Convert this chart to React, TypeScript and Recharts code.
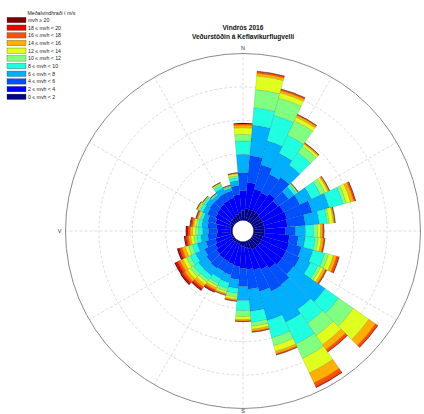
import React from 'react';
import {
  RadialBarChart,
  RadialBar,
  PolarGrid,
  PolarAngleAxis,
  PolarRadiusAxis,
} from 'recharts';

// Compass directions, 10° sectors centred on each value
const directions = [
  0, 10, 20, 30, 40, 50, 60, 70, 80, 90, 100, 110, 120, 130, 140, 150, 160, 170,
  180, 190, 200, 210, 220, 230, 240, 250, 260, 270, 280, 290, 300, 310, 320, 330, 340, 350,
];

// Frequency (%) per direction for each mean wind speed class (m/s)
const mvh0_2 = [0.30, 0.36, 0.35, 0.36, 0.36, 0.33, 0.33, 0.33, 0.33, 0.33, 0.33, 0.30, 0.30, 0.30, 0.30, 0.30, 0.24, 0.18, 0.15, 0.12, 0.09, 0.09, 0.09, 0.09, 0.06, 0.06, 0.06, 0.06, 0.06, 0.09, 0.12, 0.15, 0.15, 0.18, 0.21, 0.24];
const mvh2_4 = [0.60, 0.78, 0.64, 0.60, 0.69, 0.63, 0.69, 0.72, 0.69, 0.63, 0.75, 0.81, 0.81, 0.81, 0.75, 0.66, 0.66, 0.66, 0.66, 0.63, 0.63, 0.60, 0.60, 0.57, 0.54, 0.48, 0.42, 0.39, 0.42, 0.45, 0.48, 0.48, 0.51, 0.51, 0.51, 0.54];
const mvh4_6 = [0.54, 0.81, 0.75, 0.60, 0.60, 0.39, 0.54, 0.78, 0.54, 0.30, 0.27, 0.39, 0.45, 0.42, 0.60, 0.72, 0.66, 0.60, 0.54, 0.39, 0.33, 0.33, 0.36, 0.36, 0.36, 0.30, 0.27, 0.27, 0.27, 0.24, 0.27, 0.27, 0.24, 0.24, 0.21, 0.27];
const mvh6_8 = [0.54, 0.92, 0.74, 0.69, 0.45, 0.21, 0.39, 0.53, 0.42, 0.30, 0.21, 0.36, 0.36, 1.16, 0.90, 1.02, 0.90, 0.66, 0.42, 0.27, 0.24, 0.24, 0.27, 0.30, 0.30, 0.27, 0.21, 0.18, 0.18, 0.15, 0.15, 0.15, 0.10, 0.18, 0.09, 0.15];
const mvh8_10 = [0.40, 0.52, 0.79, 0.60, 0.45, 0.09, 0.30, 0.43, 0.24, 0.24, 0.30, 0.36, 0.24, 0.49, 0.51, 0.72, 0.54, 0.33, 0.30, 0.15, 0.18, 0.15, 0.15, 0.18, 0.18, 0.15, 0.12, 0.12, 0.10, 0.07, 0.09, 0.06, 0.04, 0.09, 0.04, 0.09];
const mvh10_12 = [0.20, 0.55, 0.54, 0.48, 0.24, 0.04, 0.15, 0.10, 0.06, 0.12, 0.09, 0.12, 0.09, 0.54, 0.45, 0.48, 0.24, 0.12, 0.18, 0.12, 0.09, 0.09, 0.09, 0.12, 0.12, 0.12, 0.09, 0.09, 0.07, 0.04, 0.04, 0.03, 0.02, 0.04, 0.02, 0.06];
const mvh12_14 = [0.20, 0.41, 0.16, 0.12, 0.07, 0.02, 0.09, 0.13, 0.12, 0.09, 0.09, 0.15, 0.09, 0.57, 0.33, 0.48, 0.18, 0.09, 0.09, 0.06, 0.06, 0.07, 0.09, 0.10, 0.12, 0.10, 0.09, 0.09, 0.06, 0.04, 0.04, 0.02, 0.01, 0.03, 0.02, 0.06];
const mvh14_16 = [0.08, 0.08, 0.07, 0.06, 0.03, 0, 0.04, 0.10, 0.04, 0.06, 0.07, 0.10, 0.07, 0.24, 0.18, 0.33, 0.07, 0.06, 0.04, 0.04, 0.04, 0.06, 0.09, 0.10, 0.10, 0.10, 0.07, 0.07, 0.04, 0.03, 0.02, 0.01, 0, 0.02, 0.01, 0.02];
const mvh16_18 = [0.05, 0.05, 0.04, 0.03, 0.02, 0, 0.02, 0.04, 0.02, 0.04, 0.04, 0.06, 0.04, 0.07, 0.07, 0.12, 0.04, 0.03, 0.02, 0.02, 0.02, 0.04, 0.06, 0.07, 0.07, 0.07, 0.06, 0.06, 0.04, 0.02, 0.01, 0, 0, 0, 0, 0.01];
const mvh18_20 = [0, 0.01, 0.01, 0, 0, 0, 0, 0.02, 0, 0, 0, 0.02, 0, 0.02, 0.02, 0.03, 0, 0, 0, 0, 0, 0.03, 0.04, 0.04, 0.06, 0.04, 0.04, 0.04, 0.03, 0.02, 0, 0, 0, 0, 0, 0];
const mvh20 = [0, 0, 0, 0, 0, 0, 0, 0, 0, 0, 0, 0, 0, 0, 0, 0, 0, 0, 0, 0, 0, 0.02, 0.03, 0.04, 0.04, 0.04, 0.03, 0.03, 0.02, 0, 0, 0, 0, 0, 0, 0];

const speedLabels = [
  '0 ≤ mvh < 2', '2 ≤ mvh < 4', '4 ≤ mvh < 6', '6 ≤ mvh < 8', '8 ≤ mvh < 10',
  '10 ≤ mvh < 12', '12 ≤ mvh < 14', '14 ≤ mvh < 16', '16 ≤ mvh < 18', '18 ≤ mvh < 20', 'mvh ≥ 20',
];
const speedColors = [
  '#00008f', '#0000ff', '#0050ff', '#00b0ff', '#20ffdf',
  '#80ff80', '#dfff20', '#ffb000', '#ff5000', '#f00000', '#800000',
];
const series = [mvh0_2, mvh2_4, mvh4_6, mvh6_8, mvh8_10, mvh10_12, mvh12_14, mvh14_16, mvh16_18, mvh18_20, mvh20];

// one percent per ring
const rings = [0, 1, 2, 3, 4, 5];

const rows = directions.map((dir, i) => {
  const row: Record<string, number | string> = { dir: String(dir) };
  series.forEach((s, k) => {
    row[`c${k}`] = s[i];
  });
  return row;
});

const W = 424;
const H = 414;
const CX = 243;
const CY = 231;
const R_IN = 10.5;
const R_OUT = 177.5;
const ringPx = (R_OUT - R_IN) / (rings.length - 1);
const font = '"Liberation Sans", Arial, sans-serif';

export default function App() {
  return (
    <div style={{ position: 'absolute', left: 0, top: 0, width: W, height: H, background: '#fff' }}>
      <RadialBarChart
        width={W}
        height={H}
        data={rows}
        layout="centric"
        cx={CX}
        cy={CY}
        innerRadius={R_IN}
        outerRadius={R_OUT}
        startAngle={85}
        endAngle={-275}
        barCategoryGap={0}
        margin={{ top: 0, right: 0, bottom: 0, left: 0 }}
      >
        <PolarGrid
          gridType="circle"
          polarRadius={rings.slice(1, -1).map((r) => R_IN + r * ringPx)}
          polarAngles={[0, 30, 60, 90, 120, 150, 180, 210, 240, 270, 300, 330]}
          stroke="#d4d4d4"
          strokeDasharray="3 2"
          strokeWidth={0.8}
        />
        <PolarAngleAxis
          dataKey="dir"
          type="category"
          tick={false}
          tickLine={false}
          axisLineType="circle"
          axisLine={{ stroke: '#8a8a8a', strokeWidth: 1 }}
        />
        <PolarRadiusAxis type="number" domain={[0, 5]} tick={false} axisLine={false} />
        {series.map((_, k) => (
          <RadialBar
            key={k}
            dataKey={`c${k}`}
            stackId="wind"
            fill={speedColors[k]}
            stroke="rgba(0,0,0,0.28)"
            strokeWidth={0.4}
            isAnimationActive={false}
          />
        ))}
      </RadialBarChart>

      <svg
        width={W}
        height={H}
        style={{ position: 'absolute', left: 0, top: 0, pointerEvents: 'none' }}
        fontFamily={font}
      >
        <text x={CX} y={30} textAnchor="middle" fontSize={6.6} fontWeight="bold" fill="#111">
          Vindrós 2016
        </text>
        <text x={CX} y={38.5} textAnchor="middle" fontSize={6.6} fontWeight="bold" fill="#111">
          Veðurstöðin á Keflavíkurflugvelli
        </text>
        <text x={CX} y={CY - R_OUT - 4} textAnchor="middle" fontSize={5.6} fill="#333">N</text>
        <text x={CX - R_OUT - 4} y={CY + 2} textAnchor="end" fontSize={5.6} fill="#333">V</text>
        <text x={CX} y={413} textAnchor="middle" fontSize={5.6} fill="#333">S</text>

        <text x={27.5} y={15} fontSize={5.2} fill="#222">Meðalvindhraði í m/s</text>
        {speedLabels
          .map((label, k) => ({ label, color: speedColors[k] }))
          .reverse()
          .map((item, i) => (
            <g key={item.label}>
              <rect x={7} y={17.3 + i * 7.68} width={19} height={5.4} fill={item.color} stroke="#333" strokeWidth={0.3} />
              <text x={28} y={22 + i * 7.68} fontSize={5.2} fill="#222">
                {item.label}
              </text>
            </g>
          ))}
      </svg>
    </div>
  );
}
